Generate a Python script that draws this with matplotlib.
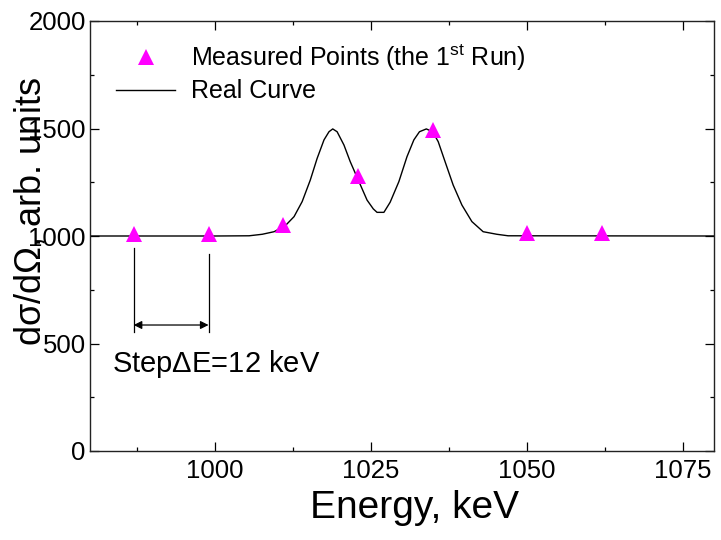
import matplotlib
matplotlib.use('Agg')
import matplotlib.pyplot as plt
from matplotlib.ticker import MultipleLocator

plt.rcParams['font.family'] = ['Liberation Sans', 'DejaVu Sans']
plt.rcParams['mathtext.fontset'] = 'custom'
plt.rcParams['mathtext.rm'] = 'Liberation Sans'
plt.rcParams['mathtext.it'] = 'Liberation Sans'

# measured points (energy in keV, cross section arb. units)
meas_e = [987, 999, 1011, 1023, 1035, 1050, 1062]
meas_y = [1010, 1010, 1051, 1280, 1492, 1012, 1012]

# real curve
curve_e = [980, 1000, 1005.5, 1007.6, 1009.5, 1011.3, 1012.7, 1014.0, 1015.3, 1016.4,
           1017.5, 1018.3, 1018.9, 1019.6, 1020.7, 1021.7, 1023.1, 1024.4, 1025.4,
           1026.0, 1027.1, 1028.1, 1029.5, 1030.8, 1031.9, 1032.8, 1033.9, 1034.9,
           1035.8, 1036.9, 1038.2, 1039.6, 1041.2, 1043.0, 1045.2, 1047.0, 1080]
curve_y = [1000, 1000, 1001, 1008, 1020, 1048, 1090, 1160, 1260, 1361,
           1447, 1485, 1498, 1485, 1423, 1346, 1253, 1167, 1126,
           1110, 1110, 1157, 1253, 1369, 1447, 1485, 1498, 1485,
           1439, 1346, 1237, 1144, 1067, 1020, 1008, 1001, 1000]

# step annotation
step_e = [987, 999]
step_top = [944, 916]
step_bottom = 553
arrow_y = 586

fig = plt.figure(figsize=(7.21, 5.40), dpi=100)
ax = fig.add_axes([90/721, 1-451/540, 624/721, 430/540])

ax.plot(meas_e, meas_y, linestyle='none', marker='^', markersize=11.5,
        color='#ff00ff', markeredgewidth=0, label='Measured Points (the 1$^{\\rm st}$ Run)', zorder=3)
ax.plot(curve_e, curve_y, color='black', linewidth=1.0, label='Real Curve', zorder=2)

for e, t in zip(step_e, step_top):
    ax.plot([e, e], [step_bottom, t], color='black', linewidth=0.9)
ax.annotate('', xy=(step_e[0], arrow_y), xytext=(step_e[1], arrow_y),
            arrowprops=dict(arrowstyle='<|-|>', color='black', lw=0.9,
                            mutation_scale=12, shrinkA=0, shrinkB=0))
ax.text(983.6, 405, 'Step$\\Delta$E=12 keV', fontsize=21, va='center', ha='left')

ax.set_xlim(980, 1080)
ax.set_ylim(0, 2000)
ax.xaxis.set_major_locator(MultipleLocator(25))
ax.xaxis.set_minor_locator(MultipleLocator(12.5))
ax.yaxis.set_major_locator(MultipleLocator(500))
ax.yaxis.set_minor_locator(MultipleLocator(250))
ax.tick_params(which='both', direction='in', top=True, right=True, labelsize=18.5, width=0.9)
ax.tick_params(which='major', length=6.2)
ax.tick_params(which='minor', length=3.1)
ax.tick_params(axis='x', pad=6)
ax.tick_params(axis='y', pad=3)
for s in ax.spines.values():
    s.set_linewidth(1.0)
    s.set_color('#222222')

ax.set_xlabel('Energy, keV', fontsize=28)
ax.xaxis.set_label_coords((415-90)/624, -(490-451)/430, transform=ax.transAxes)
ax.xaxis.label.set_va('top')
fig.text(31/721, 1-212/540, 'd$\\sigma$/d$\\Omega$, arb. units', fontsize=26,
         rotation=90, ha='center', va='center')

ax.legend(loc='upper left', bbox_to_anchor=(0.042, 0.95), frameon=False, fontsize=18,
          handlelength=2.36, handletextpad=0.63, labelspacing=0.25, borderpad=0,
          borderaxespad=0, numpoints=1)

fig.savefig('out.png', dpi=100)
